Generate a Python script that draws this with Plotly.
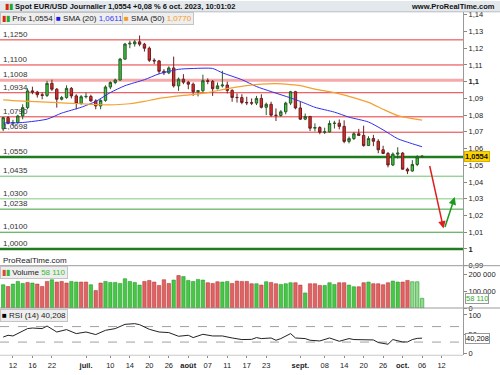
import plotly.graph_objects as go
import pandas as pd

# ---------------- data ----------------
dates = [d.strftime("%Y-%m-%d") for d in pd.bdate_range("2023-06-08", "2023-10-06")]
axis_days = [d.strftime("%Y-%m-%d") for d in pd.bdate_range("2023-06-08", "2023-10-20")]

opens = [1.0718,1.0785,1.0752,1.0756,1.0795,1.0845,1.0945,1.0938,1.0922,1.0918,
         1.0990,1.0955,1.0895,1.0905,1.0960,1.0915,1.0870,1.0910,1.0912,1.0885,
         1.0855,1.0888,1.0968,1.0995,1.1010,1.1135,1.1225,1.1226,1.1238,1.1224,
         1.1200,1.1128,1.1124,1.1062,1.1053,1.1082,1.0975,1.1015,1.0997,1.0985,
         1.0940,1.0946,1.1006,1.1002,1.0958,1.0975,1.0980,1.0948,1.0906,1.0905,
         1.0876,1.0874,1.0872,1.0900,1.0847,1.0865,1.0800,1.0798,1.0820,1.0872,
         1.0940,1.0843,1.0776,1.0792,1.0722,1.0726,1.0698,1.0700,1.0750,1.0752,
         1.0733,1.0643,1.0660,1.0689,1.0679,1.0618,1.0660,1.0644,1.0593,1.0571,
         1.0502,1.0567,1.0573,1.0477,1.0466,1.0505,1.0549]
highs = [1.0790,1.0795,1.0772,1.0802,1.0865,1.0960,1.0970,1.0945,1.0935,1.1005,
         1.1012,1.0962,1.0915,1.0978,1.0968,1.0925,1.0920,1.0935,1.0922,1.0895,
         1.0895,1.0978,1.1002,1.1018,1.1142,1.1232,1.1245,1.1250,1.1276,1.1232,
         1.1210,1.1140,1.1130,1.1075,1.1092,1.1150,1.1025,1.1045,1.1005,1.0995,
         1.0950,1.1042,1.1020,1.1010,1.0995,1.1065,1.1000,1.0955,1.0930,1.0925,
         1.0910,1.0900,1.0915,1.0925,1.0875,1.0880,1.0840,1.0830,1.0880,1.0945,
         1.0945,1.0882,1.0810,1.0796,1.0751,1.0734,1.0725,1.0768,1.0766,1.0774,
         1.0769,1.0672,1.0699,1.0718,1.0737,1.0674,1.0682,1.0656,1.0617,1.0580,
         1.0577,1.0608,1.0579,1.0486,1.0531,1.0561,1.0562]
lows = [1.0705,1.0745,1.0735,1.0748,1.0775,1.0835,1.0925,1.0905,1.0895,1.0908,
        1.0945,1.0845,1.0888,1.0898,1.0900,1.0835,1.0862,1.0900,1.0880,1.0835,
        1.0835,1.0880,1.0955,1.0985,1.1005,1.1130,1.1200,1.1210,1.1212,1.1180,
        1.1118,1.1105,1.1045,1.1040,1.1045,1.0965,1.0945,1.0985,1.0955,1.0915,
        1.0912,1.0935,1.0985,1.0915,1.0955,1.0965,1.0930,1.0880,1.0875,1.0865,
        1.0860,1.0860,1.0860,1.0840,1.0800,1.0790,1.0765,1.0790,1.0805,1.0860,
        1.0835,1.0771,1.0770,1.0705,1.0703,1.0686,1.0687,1.0697,1.0720,1.0715,
        1.0632,1.0631,1.0651,1.0675,1.0612,1.0617,1.0615,1.0572,1.0567,1.0488,
        1.0496,1.0540,1.0475,1.0448,1.0461,1.0495,1.0545]
closes = [1.0785,1.0752,1.0756,1.0795,1.0845,1.0945,1.0938,1.0922,1.0918,1.0990,
          1.0955,1.0895,1.0905,1.0960,1.0915,1.0870,1.0910,1.0912,1.0885,1.0855,
          1.0888,1.0968,1.0995,1.1010,1.1135,1.1225,1.1230,1.1238,1.1224,1.1200,
          1.1128,1.1124,1.1062,1.1053,1.1082,1.0975,1.1015,1.0997,1.0985,1.0940,
          1.0946,1.1006,1.1002,1.0958,1.0975,1.0980,1.0948,1.0906,1.0905,1.0876,
          1.0874,1.0872,1.0900,1.0847,1.0865,1.0800,1.0798,1.0820,1.0872,1.0940,
          1.0843,1.0776,1.0792,1.0722,1.0726,1.0698,1.0700,1.0750,1.0752,1.0733,
          1.0643,1.0660,1.0689,1.0679,1.0618,1.0660,1.0644,1.0593,1.0571,1.0502,
          1.0567,1.0573,1.0477,1.0466,1.0505,1.0549,1.0554]

volumes_k = [139,129,143,159,147,153,149,143,129,159,169,155,159,149,159,155,155,155,139,104,
             149,159,153,153,147,175,159,153,137,159,165,155,135,169,147,167,194,188,165,159,
             171,167,151,147,157,155,159,147,161,159,159,
             145,145,137,157,153,145,141,145,151,151,137,90,145,145,135,135,151,141,151,151,
             137,127,127,151,155,145,145,139,151,161,155,155,165,157,157,58.11]
volumes = [v * 1000 for v in volumes_k]
vol_dir = list("grgggrgrrrgrrrggrrgrrgggggggg" "rrrrrrgrgggggrrrggrrrr"
               "rgrgrrgggrrgrrrgggrrggrrgrrrrggrrggg")

# SMA values at sample dates (trading-day index, value)
sma20_idx = [0,4,9,12,16,19,22,25,29,32,36,39,43,45,49,52,55,59,61,64,68,71,75,78,81,84,86]
sma20_val = [1.0753,1.0756,1.0776,1.0812,1.0847,1.0882,1.0935,1.0976,1.1012,1.1047,1.1074,
             1.1079,1.1079,1.1053,1.1012,1.0971,1.0941,1.0903,1.0882,1.0847,1.0818,1.0788,
             1.0759,1.0712,1.0659,1.0629,1.0611]
sma50_idx = [0,3,10,16,20,23,26,29,32,39,42,46,50,53,56,59,61,64,68,71,75,78,81,84,86]
sma50_val = [1.0891,1.0885,1.0876,1.0868,1.0862,1.0862,1.0868,1.0882,1.0900,1.0924,1.0935,
             1.0959,1.0976,1.0985,1.0988,1.0982,1.0976,1.0956,1.0935,1.0912,1.0876,1.0835,
             1.0797,1.0779,1.0770]

rsi_idx = [0,1,2,3,5,6,8,9,11,13,15,17,19,21,23,25,27,28,30,32,34,36,38,39,41,43,45,47,49,
           51,52,53,55,56,57,59,60,62,63,65,67,69,71,72,74,76,77,79,80,82,83,84,85,86]
rsi_val = [43,47.6,45.8,51.9,64.8,66.3,64.8,71.5,56,62.2,51.9,56,49.4,60.4,64.8,75.8,77.6,75,
           63,56,54.5,45,47.6,41.6,50.1,45.8,45.8,40.6,36.5,37,41.6,39,40.6,34.7,39,51.9,40.6,
           39,34.7,32.9,40.6,32.1,39,36.5,36.5,35.5,28.8,24.4,36.5,30.3,30.3,36.5,39.5,40.208]

levels = [1.1250,1.1100,1.1008,1.0934,1.0790,1.0698,1.0550,1.0435,1.0300,1.0238,1.0100,1.0000]
level_colors = ["#e8383b","#e8383b","#f6a9a9","#e8383b","#e8383b","#e8383b",
                "#1f7d1f","#6cbf6c","#a9dca9","#3d9e3d","#3d9e3d","#1f7d1f"]
level_widths = [1,1,3,1,1,1,2.5,1,1.5,1,1,2.5]

tick_dates = ["2023-06-12","2023-06-16","2023-06-22","2023-07-03","2023-07-10","2023-07-14",
              "2023-07-20","2023-07-26","2023-08-01","2023-08-07","2023-08-11","2023-08-17",
              "2023-08-23","2023-09-01","2023-09-08","2023-09-14","2023-09-20","2023-09-26",
              "2023-10-02","2023-10-06","2023-10-12"]
tick_text = ["12","16","22","<b>juil.</b>","10","14","20","26","<b>août</b>","07","11","17",
             "23","<b>sept.</b>","08","14","20","26","<b>oct.</b>","06","12"]

price_ticks = [0.99] + [round(1 + k * 0.01, 2) for k in range(15)]
price_text = ["0,99","<b>1</b>","1,01","1,02","1,03","1,04","1,05","1,06","1,07","1,08","1,09",
              "<b>1,1</b>","1,11","1,12","1,13","1,14"]

# hand-drawn arrows (trading-day position, price)
red_arrow = dict(x0=87.5, y0=1.0505, x1=90.4, y1=1.0122)
green_arrow = dict(x0=90.6, y0=1.0122, x1=92.7, y1=1.0310)

# ---------------- figure ----------------
FONT = "Liberation Sans"
W, H = 500, 375
def py(p):  # pixel-from-top -> paper y
    return 1 - p / H

XR = 463 / W
XRANGE = [-0.657, 94.4]
fig = go.Figure()

fig.add_trace(go.Candlestick(
    x=dates, open=opens, high=highs, low=lows, close=closes,
    increasing=dict(fillcolor="#3ec63e", line=dict(color="#2a5a2a", width=1)),
    decreasing=dict(fillcolor="#e32a2a", line=dict(color="#6a2020", width=1)),
    whiskerwidth=0, xaxis="x", yaxis="y", hoverinfo="skip"))

fig.add_trace(go.Scatter(x=[dates[i] for i in sma20_idx], y=sma20_val, mode="lines",
                         line=dict(color="#3030f0", width=1, shape="spline", smoothing=0.6),
                         xaxis="x", yaxis="y"))
fig.add_trace(go.Scatter(x=[dates[i] for i in sma50_idx], y=sma50_val, mode="lines",
                         line=dict(color="#f5a030", width=1.2, shape="spline", smoothing=0.6),
                         xaxis="x", yaxis="y"))

vcolors = ["#46c846" if c == "g" else "#e06262" for c in vol_dir]
vlines = ["#2c9a2c" if c == "g" else "#b83a3a" for c in vol_dir]
vcolors[-3:] = ["#8fdc8f", "#8fdc8f", "#8fdc8f"]
fig.add_trace(go.Bar(x=dates, y=volumes, width=0.7,
                     marker=dict(color=vcolors, line=dict(color=vlines, width=0.6)),
                     xaxis="x2", yaxis="y2"))

fig.add_trace(go.Scatter(x=[dates[i] for i in rsi_idx], y=rsi_val, mode="lines",
                         line=dict(color="#222222", width=1), xaxis="x3", yaxis="y3"))

common_x = dict(type="category", categoryorder="array", categoryarray=axis_days,
                range=XRANGE, domain=[0, XR], showgrid=False, zeroline=False, showline=False)
axis_y = dict(side="right", ticks="outside", ticklen=3, tickcolor="#888", showline=True,
              linecolor="#999", showgrid=False, zeroline=False, tickfont=dict(size=7.5),
              tickmode="array")
fig.update_layout(
    width=W, height=H, margin=dict(l=0, r=0, t=0, b=0),
    paper_bgcolor="white", plot_bgcolor="white", showlegend=False,
    separators=", ",
    font=dict(family=FONT, size=8, color="#222"),
    xaxis=dict(**common_x, anchor="y", showticklabels=False, rangeslider=dict(visible=False)),
    xaxis2=dict(**common_x, anchor="y2", showticklabels=False),
    xaxis3=dict(**common_x, anchor="y3", tickmode="array", tickvals=tick_dates,
                ticktext=tick_text, ticks="outside", ticklen=2, tickcolor="#888",
                ticklabelstandoff=1, tickfont=dict(size=7.5, color="#222")),
    yaxis=dict(**axis_y, domain=[py(269), py(11)], range=[0.99, 1 + (252 - 11) / 1700],
               anchor="x", tickvals=price_ticks, ticktext=price_text),
    yaxis2=dict(**axis_y, domain=[py(312), py(269)], range=[0, 253000], anchor="x2",
                tickvals=[0, 100000, 200000], ticktext=["0", "100 000", "200 000"]),
    yaxis3=dict(**axis_y, domain=[py(360), py(312)], range=[-4, 118], anchor="x3",
                tickvals=[0, 50, 100], ticktext=["0", "50", "100"]),
)

shapes = []
for v, c, w in zip(levels, level_colors, level_widths):
    shapes.append(dict(type="line", xref="x domain", yref="y", x0=0, x1=1, y0=v, y1=v,
                       line=dict(color=c, width=w), layer="below"))
for v in (30, 70):
    shapes.append(dict(type="line", xref="x3 domain", yref="y3", x0=0, x1=1, y0=v, y1=v,
                       line=dict(color="#a0a0a0", width=1, dash="dash"), layer="below"))
shapes.append(dict(type="rect", xref="paper", yref="paper", x0=0, x1=1, y0=py(11), y1=1,
                   fillcolor="#e3e8ec", line=dict(width=0)))
shapes.append(dict(type="line", xref="paper", yref="paper", x0=0, x1=1, y0=py(11), y1=py(11),
                   line=dict(color="#b5bcc3", width=1)))
for p in (269, 312):
    shapes.append(dict(type="line", xref="paper", yref="paper", x0=0, x1=1, y0=py(p), y1=py(p),
                       line=dict(color="#9a9a9a", width=1)))
shapes.append(dict(type="line", xref="paper", yref="paper", x0=0, x1=XR, y0=py(360), y1=py(360),
                   line=dict(color="#c8c8c8", width=1)))
fig.update_layout(shapes=shapes)

ann = []
for v in levels:
    ann.append(dict(xref="paper", yref="y", x=0.004, y=v, xanchor="left", yanchor="bottom",
                    text=f"{v:.4f}".replace(".", ","), showarrow=False, borderpad=0,
                    font=dict(size=8, color="#333")))
ann.append(dict(xref="paper", yref="paper", x=0.006, y=py(5.5), xanchor="left", yanchor="middle",
                text="<span style='color:#d22'>▮</span><span style='color:#2a2'>▮</span> "
                     "<b>Spot EUR/USD Journalier 1,0554 +0,08 % 6 oct. 2023, 10:01:02</b>",
                showarrow=False, font=dict(size=7.5, color="#111")))
ann.append(dict(xref="paper", yref="paper", x=0.994, y=py(5.5), xanchor="right", yanchor="middle",
                text="<b>www.ProRealTime.com</b>", showarrow=False, font=dict(size=7.5, color="#111")))
def box(x, y, text):
    return dict(xref="paper", yref="paper", x=x, y=py(y), xanchor="left", yanchor="middle",
                text=text, showarrow=False, bgcolor="#eeeeee", bordercolor="#c4c4c4",
                borderwidth=1, borderpad=1, font=dict(size=8, color="#222"))
ann.append(box(0.0, 18, "<span style='color:#d22'>▮</span><span style='color:#2a2'>▮</span> Prix 1,0554"))
ann.append(box(0.108, 18, "<span style='color:#1a1af0'>■</span> SMA (20) <span style='color:#3a3af5'>1,0611</span>"))
ann.append(box(0.244, 18, "<span style='color:#f59a20'>■</span> SMA (50) <span style='color:#f59a20'>1,0770</span>"))
ann.append(box(0.0, 276, "<span style='color:#d44'>▮</span><span style='color:#3b3'>▮</span> Volume <span style='color:#3b3'>58 110</span>"))
ann.append(box(0.0, 320, "<span style='color:#000'>■</span> RSI (14) 40,208"))
ann.append(dict(xref="paper", yref="paper", x=0.002, y=py(264), xanchor="left", yanchor="middle",
                text="ProRealTime.com", showarrow=False, font=dict(size=8, color="#222")))
ann.append(dict(xref="paper", yref="y", x=XR + 0.001, y=closes[-1], xanchor="left", yanchor="middle",
                text="<b>1,0554</b>", showarrow=False, bgcolor="#ffd200", bordercolor="#d6b000",
                borderwidth=1, borderpad=0, font=dict(size=7.5, color="#111")))
ann.append(dict(xref="paper", yref="y2", x=XR + 0.003, y=volumes[-1], xanchor="left", yanchor="middle",
                text="58 110", showarrow=False, bgcolor="white", bordercolor="#999",
                borderwidth=1, borderpad=0, font=dict(size=7.5, color="#2caa2c")))
ann.append(dict(xref="paper", yref="y3", x=XR + 0.003, y=rsi_val[-1], xanchor="left", yanchor="middle",
                text="40,208", showarrow=False, bgcolor="white", bordercolor="#999",
                borderwidth=1, borderpad=0, font=dict(size=7.5, color="#111")))
for a, col in ((red_arrow, "#e02020"), (green_arrow, "#1a9a1a")):
    ann.append(dict(xref="x", yref="y", axref="x", ayref="y",
                    x=a["x1"], y=a["y1"], ax=a["x0"], ay=a["y0"],
                    text="", showarrow=True, arrowhead=2, arrowsize=1, arrowwidth=1.5,
                    arrowcolor=col))
fig.update_layout(annotations=ann)

fig.write_html("out.html", config={"displayModeBar": False},
               post_script="document.body.style.margin='0';document.body.style.padding='0';")
